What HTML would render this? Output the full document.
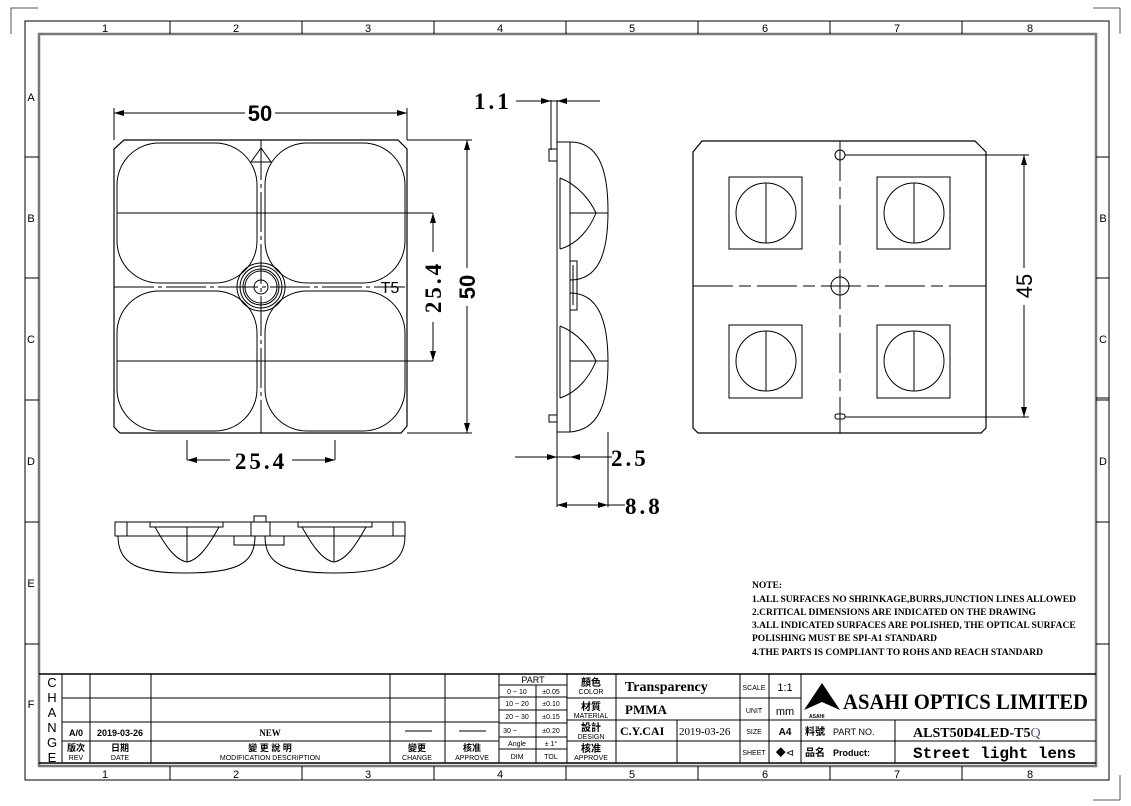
<!DOCTYPE html>
<html><head><meta charset="utf-8"><style>
html,body{margin:0;padding:0;background:#fff;}
svg{display:block;}
text{font-family:"Liberation Sans","Noto Sans CJK SC",sans-serif;fill:#000;}
.s{font-family:"Liberation Serif","Noto Serif CJK SC",serif;}
.m{font-family:"Liberation Mono","Noto Sans CJK SC",monospace;}
.d{font-family:"Liberation Serif",serif;font-weight:bold;letter-spacing:3px;}
</style></head><body>
<svg width="1131" height="806" viewBox="0 0 1131 806" xmlns="http://www.w3.org/2000/svg">
<defs>
<marker id="a" viewBox="0 0 10 6" refX="10" refY="3" markerWidth="10" markerHeight="6" orient="auto-start-reverse" markerUnits="userSpaceOnUse"><path d="M0,0L10,3L0,6z" fill="#000"/></marker>
</defs>
<g fill="none" stroke="#000" stroke-width="1">
<path d="M11,34V8H38" stroke="#555"/>
<path d="M1120,8V34M1093,8H1120" stroke="#555"/>
<path d="M1120,775V800M1093,800H1120" stroke="#555"/>
<rect x="25" y="21" width="1084" height="759"/>
<rect x="39" y="34" width="1057" height="732" stroke="#777" stroke-width="2.5"/>
<path d="M170,21V34M302,21V34M434,21V34M566,21V34M698,21V34M830,21V34M962,21V34"/>
<path d="M170,766V780M302,766V780M434,766V780M566,766V780M698,766V780M830,766V780M962,766V780"/>
<path d="M25,157H39M25,278H39M25,400H39M25,522H39M25,644H39"/>
<path d="M1096,157H1109M1096,278H1109M1096,400H1109M1096,522H1109M1096,644H1109"/>
</g>
<g font-size="11" text-anchor="middle">
<text x="105" y="32">1</text><text x="236" y="32">2</text><text x="368" y="32">3</text><text x="500" y="32">4</text><text x="632" y="32">5</text><text x="765" y="32">6</text><text x="897" y="32">7</text><text x="1030" y="32">8</text>
<text x="105" y="778">1</text><text x="236" y="778">2</text><text x="368" y="778">3</text><text x="500" y="778">4</text><text x="632" y="778">5</text><text x="765" y="778">6</text><text x="897" y="778">7</text><text x="1030" y="778">8</text>
<text x="31" y="101">A</text><text x="31" y="222">B</text><text x="31" y="343">C</text><text x="31" y="465">D</text><text x="31" y="587">E</text><text x="31" y="708">F</text>
<text x="1103" y="222">B</text><text x="1103" y="343">C</text><text x="1103" y="465">D</text>
</g>

<g fill="none" stroke="#000" stroke-width="1">
<path d="M124,140H398L407,149V426L401,433H120L114,427V149Z" stroke-width="1.2"/>
<rect x="117" y="143" width="140" height="140" rx="42"/>
<rect x="265" y="143" width="140" height="140" rx="42"/>
<rect x="117" y="291" width="140" height="140" rx="42"/>
<rect x="265" y="291" width="140" height="140" rx="42"/>
<path d="M117,213H433M117,361H433"/>
<path d="M261,140V433" stroke-dasharray="40,4,4,4"/>
<path d="M114,287H405" stroke-dasharray="40,4,4,4"/>
<path d="M251,162L261,148L271,162Z"/>
<circle cx="261" cy="287" r="24"/><circle cx="261" cy="287" r="21"/><circle cx="261" cy="287" r="18"/><circle cx="261" cy="287" r="16"/><circle cx="261" cy="287" r="7"/>
<path d="M114,140V108M407,140V108"/>
<path d="M114,113H245M275,113H407"/>
<path d="M114,113H150" marker-start="url(#a)"/><path d="M370,113H407" marker-end="url(#a)"/>
<path d="M433,213V252M433,322V361"/>
<path d="M433,213V245" marker-start="url(#a)"/><path d="M433,330V361" marker-end="url(#a)"/>
<path d="M407,140H472M407,433H472"/>
<path d="M467,140V268M467,306V433"/>
<path d="M467,140V175" marker-start="url(#a)"/><path d="M467,400V433" marker-end="url(#a)"/>
<path d="M187,440V460M335,440V460"/>
<path d="M187,460H230M292,460H335"/>
<path d="M187,460H215" marker-start="url(#a)"/><path d="M305,460H335" marker-end="url(#a)"/>
</g>
<text x="260" y="121" font-size="22" font-weight="bold" text-anchor="middle">50</text>
<text x="261" y="469" font-size="23" text-anchor="middle" class="d">25.4</text>
<text x="390" y="293" font-size="16" text-anchor="middle">T5</text>
<text transform="translate(441,287) rotate(-90)" font-size="23" text-anchor="middle" class="d">25.4</text>
<text transform="translate(475,287) rotate(-90)" font-size="22" font-weight="bold" text-anchor="middle">50</text>

<g fill="none" stroke="#000" stroke-width="1">
<path d="M557,100V507M551,100V150"/>
<path d="M570,142V432M557,142H570M557,432H570"/>
<path d="M549,149H557V161H549Z"/>
<path d="M549,415H557V422H549Z"/>
<path d="M570,142C598,142 608,168 608,211C608,255 598,280 570,280"/>
<path d="M570,293C598,293 608,320 608,362C608,405 598,430 570,432"/>
<path d="M570,213H608M570,361H608"/>
<path d="M560,178V249M560,326V398"/>
<path d="M560,178C578,185 590,200 596,213C590,228 578,244 560,249"/>
<path d="M560,326C578,333 590,348 596,361C590,376 578,392 560,398"/>
<path d="M570,261H577V310H570M573,265V305"/>
<path d="M570,250V330"/>
<path d="M608,432V507"/>
<path d="M516,101H600"/>
<path d="M527,101H551" marker-end="url(#a)"/><path d="M557,101H580" marker-start="url(#a)"/>
<path d="M515,457H612"/>
<path d="M530,457H557" marker-end="url(#a)"/><path d="M570,457H595" marker-start="url(#a)"/>
<path d="M557,505H625"/>
<path d="M557,505H580" marker-start="url(#a)"/><path d="M585,505H608" marker-end="url(#a)"/>
</g>
<text x="474" y="109" font-size="23" class="d">1.1</text>
<text x="611" y="466" font-size="23" class="d">2.5</text>
<text x="625" y="514" font-size="23" class="d">8.8</text>

<g fill="none" stroke="#000" stroke-width="1">
<rect x="115" y="522" width="290" height="14"/>
<path d="M127,522V536M393,522V536"/>
<path d="M150,522V527H223V522M298,522V527H372V522"/>
<path d="M118,536C118,565 140,573 185,573C235,573 255,565 255,536"/>
<path d="M265,536C265,565 285,573 335,573C382,573 405,565 405,536"/>
<path d="M155,527C165,545 175,560 187,562C199,560 209,545 219,527M187,527V562"/>
<path d="M302,527C312,545 322,560 334,562C346,560 356,545 366,527M334,527V562"/>
<path d="M254,516H266V522H254Z"/>
<path d="M234,536H284V545H234Z"/>
<path d="M251,522V536M270,522V536"/>
</g>

<g fill="none" stroke="#000" stroke-width="1">
<path d="M702,141H975L986,152V428L981,433H698L693,428V152Z" stroke-width="1.2"/>
<rect x="729" y="177" width="73" height="72"/><rect x="877" y="177" width="73" height="72"/>
<rect x="729" y="325" width="73" height="73"/><rect x="877" y="325" width="73" height="73"/>
<circle cx="766" cy="213" r="30"/><path d="M766,183V243"/>
<circle cx="914" cy="213" r="30"/><path d="M914,183V243"/>
<circle cx="766" cy="361" r="30"/><path d="M766,331V391"/>
<circle cx="914" cy="361" r="30"/><path d="M914,331V391"/>
<path d="M840,141V433" stroke-dasharray="40,6,12,6"/>
<path d="M693,286H986" stroke-dasharray="40,6,12,6"/>
<circle cx="840" cy="286" r="9"/>
<circle cx="840" cy="155" r="5"/>
<rect x="835" y="414" width="10" height="5" rx="2"/>
<path d="M845,155H1029M845,417H1029"/>
<path d="M1024,155V268M1024,305V417"/>
<path d="M1024,155V190" marker-start="url(#a)"/><path d="M1024,385V417" marker-end="url(#a)"/>
<path d="M1096,398H1109"/>
</g>
<text transform="translate(1032,286) rotate(-90)" font-size="22" text-anchor="middle">45</text>

<g font-size="9.5" font-weight="bold" class="s">
<text x="752" y="588" class="s">NOTE:</text>
<text x="752" y="602" class="s">1.ALL SURFACES NO SHRINKAGE,BURRS,JUNCTION LINES ALLOWED</text>
<text x="752" y="615" class="s">2.CRITICAL DIMENSIONS ARE INDICATED ON THE DRAWING</text>
<text x="752" y="628" class="s">3.ALL INDICATED SURFACES ARE POLISHED, THE OPTICAL SURFACE</text>
<text x="752" y="641" class="s">POLISHING MUST BE SPI-A1 STANDARD</text>
<text x="752" y="655" class="s">4.THE PARTS IS COMPLIANT TO ROHS AND REACH STANDARD</text>
</g>

<g fill="none" stroke="#000" stroke-width="1">
<path d="M39,674H1096" stroke-width="1.5"/>
<path d="M39,763H1096" stroke-width="1.5"/>
<path d="M62,674V763M90,674V763M151,674V763M390,674V763M445,674V763M499,674V763"/>
<path d="M62,698H499M62,722H499M62,741H499"/>
<path d="M536,685V763M499,685H567M499,697H567M499,710H567M499,723H567M499,737H567M499,749H567"/>
<path d="M567,674V763M616,674V763"/>
<path d="M567,698H801M567,720H1096M567,741H1096"/>
<path d="M677,720V763M740,674V763M769,674V763M801,674V763M895,720V763"/>
<path d="M405,731H432M459,731H486"/>
</g>
<g font-size="13" text-anchor="middle">
<text x="52" y="687">C</text><text x="52" y="702">H</text><text x="52" y="717">A</text><text x="52" y="732">N</text><text x="52" y="747">G</text><text x="52" y="762">E</text>
</g>
<g font-size="9" font-weight="bold" text-anchor="middle">
<text x="76" y="736">A/0</text><text x="120" y="736">2019-03-26</text><text x="270" y="736" class="s">NEW</text>
<text x="76" y="751">版次</text><text x="120" y="751">日期</text><text x="270" y="751">變 更 說 明</text><text x="417" y="751">變更</text><text x="472" y="751">核准</text>
</g>
<g font-size="7" text-anchor="middle">
<text x="76" y="760">REV</text><text x="120" y="760">DATE</text><text x="270" y="760">MODIFICATION DESCRIPTION</text><text x="417" y="760">CHANGE</text><text x="472" y="760">APPROVE</text>
<text x="533" y="683" font-size="9">PART</text>
<text x="517" y="694">0 ~ 10</text><text x="551" y="694">±0.05</text>
<text x="517" y="706">10 ~ 20</text><text x="551" y="706">±0.10</text>
<text x="517" y="719">20 ~ 30</text><text x="551" y="719">±0.15</text>
<text x="510" y="733">30 ~</text><text x="551" y="733">±0.20</text>
<text x="517" y="746">Angle</text><text x="551" y="746">± 1°</text>
<text x="517" y="759">DIM</text><text x="551" y="759">TOL</text>
<text x="591" y="694">COLOR</text><text x="591" y="718">MATERIAL</text><text x="591" y="739">DESIGN</text><text x="591" y="760">APPROVE</text>
<text x="754" y="690">SCALE</text><text x="754" y="713">UNIT</text><text x="754" y="734">SIZE</text><text x="754" y="755">SHEET</text>
</g>
<g font-size="10" font-weight="bold" text-anchor="middle">
<text x="591" y="686">顏色</text><text x="591" y="710">材質</text><text x="591" y="731">設計</text><text x="591" y="752">核准</text>
</g>
<g class="s" font-weight="bold">
<text x="625" y="691" font-size="14" class="s">Transparency</text>
<text x="625" y="714" font-size="13" class="s">PMMA</text>
<text x="620" y="735" font-size="12" class="s">C.Y.CAI</text>
<text x="679" y="735" font-size="11" class="s" font-weight="normal">2019-03-26</text>
</g>
<text x="785" y="691" font-size="11" text-anchor="middle">1:1</text>
<text x="785" y="715" font-size="11" text-anchor="middle">mm</text>
<text x="785" y="735" font-size="10" font-weight="bold" text-anchor="middle">A4</text>
<text x="785" y="756" font-size="10" text-anchor="middle">◆⊲</text>
<path d="M804,710L822,683L840,710L822,702Z" fill="#000"/>
<text x="809" y="718" font-size="5" font-weight="bold">ASAHI</text>
<text x="843" y="709" font-size="22" class="s" font-weight="bold" textLength="245" lengthAdjust="spacingAndGlyphs">ASAHI OPTICS LIMITED</text>
<text x="805" y="735" font-size="10" font-weight="bold">料號</text><text x="833" y="735" font-size="9">PART NO.</text>
<text x="805" y="756" font-size="10" font-weight="bold">品名</text><text x="833" y="756" font-size="9" font-weight="bold">Product:</text>
<text x="913" y="737" font-size="14" font-weight="bold" class="s">ALST50D4LED-T5<tspan font-weight="normal" fill="#557">Q</tspan></text>
<text x="913" y="758" font-size="16" font-weight="bold" class="m">Street light lens</text>
</svg>
</body></html>
